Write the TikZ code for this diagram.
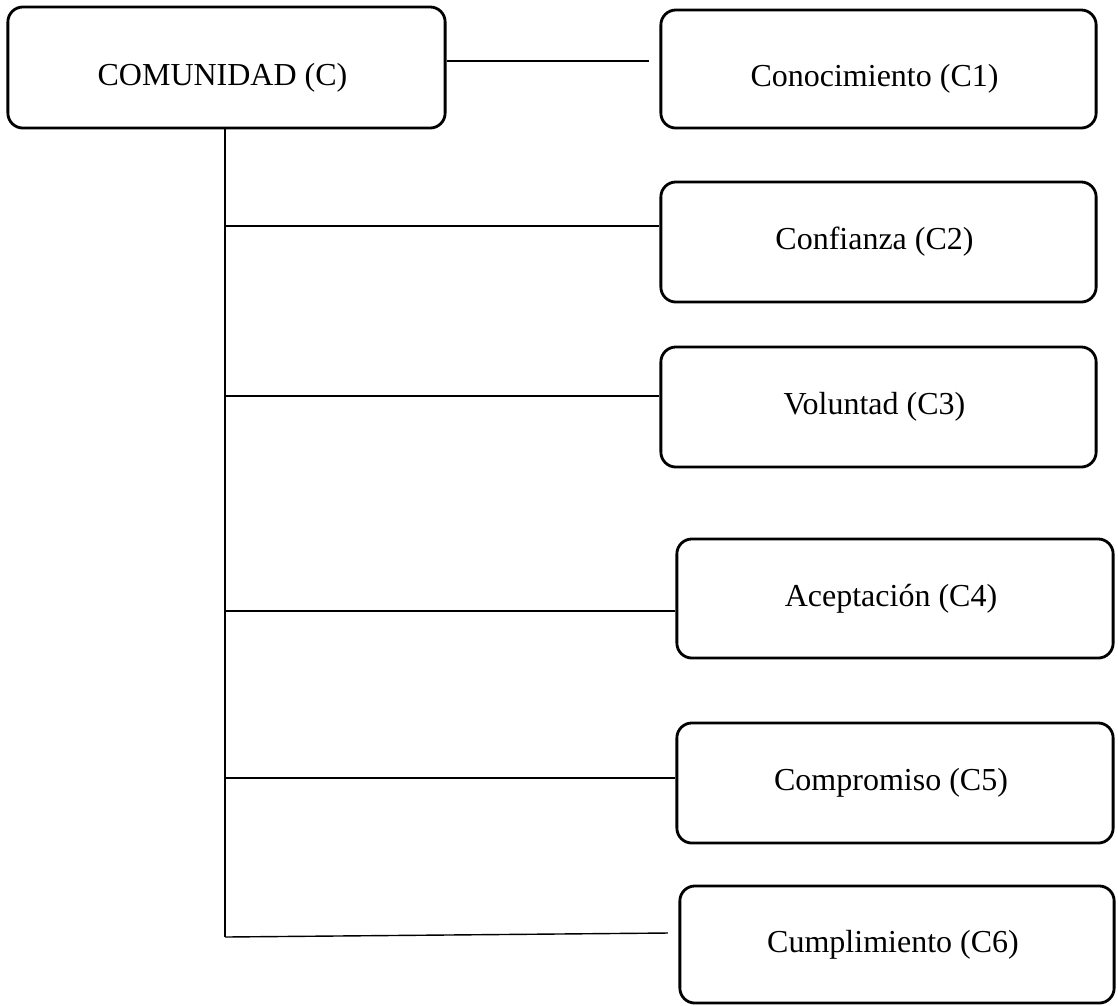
\documentclass[tikz,border=0pt]{standalone}
\usepackage{fontspec}
\setmainfont{Liberation Serif}
\usepackage{tikz}
\usetikzlibrary{positioning}

\begin{document}
\begin{tikzpicture}[x = 0.01cm, y = -0.01cm,
    every node/.style = { draw, align = center, rounded corners = 0.15cm, line width = 0.8pt,
      font = \fontsize{9.1pt}{11pt}\selectfont, inner sep = 0pt },
    lowtext/.style = { text height = 12pt, text depth = 2pt },
    branch/.style = { line width = 0.4pt }]
      \useasboundingbox (0,0) rectangle (1118,1005);

      \node [lowtext, minimum width = 4.37cm, minimum height = 1.21cm] (com) at (226.5,67.5) { COMUNIDAD (C) };
      \node [lowtext, minimum width = 4.35cm, minimum height = 1.18cm] (c1) at (878.5,69) { Conocimiento (C1) };
      \node [minimum width = 4.35cm, minimum height = 1.20cm] (c2) at (878.5,242) { Confianza (C2) };
      \node [minimum width = 4.35cm, minimum height = 1.20cm] (c3) at (878.5,407) { Voluntad (C3) };
      \node [minimum width = 4.36cm, minimum height = 1.19cm] (c4) at (895,598.5) { Aceptación (C4) };
      \node [minimum width = 4.36cm, minimum height = 1.20cm] (c5) at (895,783) { Compromiso (C5) };
      \node [minimum width = 4.34cm, minimum height = 1.17cm] (c6) at (897,944.5) { Cumplimiento (C6) };

      \coordinate (bot) at (225,937);

      \draw [branch] (com.east |- 0,61) -- ([xshift = -3] c1.west |- 0,61);
      \draw [branch] (com.south -| bot) -- (bot);
      \foreach \n/\y in { c2/226, c3/396, c4/611, c5/778 }
        \draw [branch] (bot |- 0,\y) -- (\n.west |- 0,\y);
      \draw [branch] (bot) -- ([xshift = -3] c6.west |- 0,933);

\end{tikzpicture}
\end{document}
